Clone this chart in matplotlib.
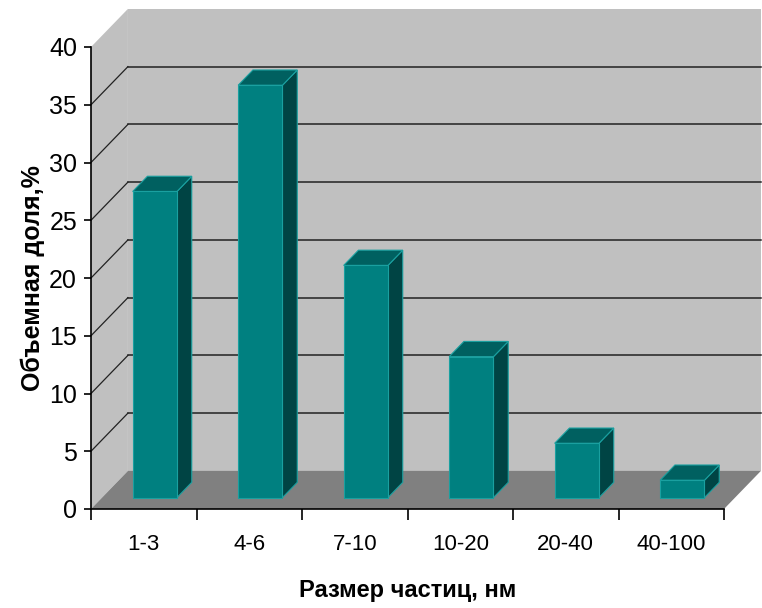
import matplotlib
matplotlib.use("Agg")
import matplotlib.pyplot as plt
from matplotlib.patches import Polygon

# распределение частиц по размерам
categories = ["1-3", "4-6", "7-10", "10-20", "20-40", "40-100"]
values = [26.5, 35.7, 20.1, 12.2, 4.7, 1.5]
yticks = [0, 5, 10, 15, 20, 25, 30, 35, 40]

narrow = ["Liberation Sans Narrow", "Liberation Sans", "DejaVu Sans"]

DX, DY = 0.35, 3.3      # сдвиг задней стенки (псевдо-3D)
D0, D1 = 0.3, 0.7       # положение столбца по глубине
W = 0.42                # ширина столбца
YMAX = 40

fig = plt.figure(figsize=(7.62, 6.08), dpi=100)
ax = fig.add_axes([91 / 762, 1 - 509 / 608, 633 / 762, 462 / 608])
ax.set_xlim(0, len(categories))
ax.set_ylim(0, YMAX)
ax.patch.set_visible(False)

wall = "#c0c0c0"
floor = "#808080"
# задняя и боковая стенки, пол
ax.add_patch(Polygon([(DX, DY), (len(categories) + DX, DY),
                      (len(categories) + DX, YMAX + DY), (DX, YMAX + DY)],
                     closed=True, fc=wall, ec="none", clip_on=False, zorder=0))
ax.add_patch(Polygon([(0, 0), (DX, DY), (DX, YMAX + DY), (0, YMAX)],
                     closed=True, fc=wall, ec="none", clip_on=False, zorder=0))
ax.add_patch(Polygon([(0, 0), (DX, DY), (len(categories) + DX, DY), (len(categories), 0)],
                     closed=True, fc=floor, ec="none", clip_on=False, zorder=1))

# линии сетки
for v in yticks[1:-1]:
    ax.plot([DX, len(categories) + DX], [v + DY, v + DY], color="#222222", lw=1.1,
            clip_on=False, zorder=0.5)
    ax.plot([0, DX], [v, v + DY], color="#222222", lw=0.9, clip_on=False, zorder=0.5)

front = "#008080"
top = "#006060"
side = "#004444"
edge = "#1aa0a0"
for i, v in enumerate(values):
    x0 = i + 0.5 - W / 2 + D0 * DX
    y0 = D0 * DY
    dx = (D1 - D0) * DX
    dy = (D1 - D0) * DY
    # боковая грань
    ax.add_patch(Polygon([(x0 + W, y0), (x0 + W + dx, y0 + dy),
                          (x0 + W + dx, y0 + v + dy), (x0 + W, y0 + v)],
                         closed=True, fc=side, ec=edge, lw=0.8, clip_on=False, zorder=3))
    # верхняя грань
    ax.add_patch(Polygon([(x0, y0 + v), (x0 + dx, y0 + v + dy),
                          (x0 + W + dx, y0 + v + dy), (x0 + W, y0 + v)],
                         closed=True, fc=top, ec=edge, lw=0.8, clip_on=False, zorder=3))
    # передняя грань
    ax.bar(x0, v, width=W, bottom=y0, align="edge", color=front, edgecolor=edge,
           linewidth=0.8, zorder=4, clip_on=False)

for s in ["top", "right"]:
    ax.spines[s].set_visible(False)
for s in ["left", "bottom"]:
    ax.spines[s].set_color("black")
    ax.spines[s].set_linewidth(1.2)
    ax.spines[s].set_zorder(5)

ax.set_yticks(yticks)
ax.set_yticklabels([str(t) for t in yticks], family=narrow, fontsize=18)
ax.tick_params(axis="y", direction="out", length=5, width=1.2, pad=5)

ax.set_xticks(range(len(categories) + 1))
ax.set_xticklabels([])
ax.tick_params(axis="x", which="major", direction="out", length=8, width=1.2)
ax.set_xticks([i + 0.5 for i in range(len(categories))], minor=True)
ax.set_xticklabels(categories, minor=True, family=narrow, fontsize=16)
ax.tick_params(axis="x", which="minor", length=0, pad=18)

fig.text(33 / 762, 1 - 278 / 608, "Объемная доля,%", rotation=90, ha="center",
         va="center", fontsize=18, fontweight="bold", family="Liberation Sans")
fig.text(408 / 762, 1 - 590 / 608, "Размер частиц, нм", ha="center", va="center",
         fontsize=17, fontweight="bold", family=narrow)

fig.savefig("out.png", dpi=100)
